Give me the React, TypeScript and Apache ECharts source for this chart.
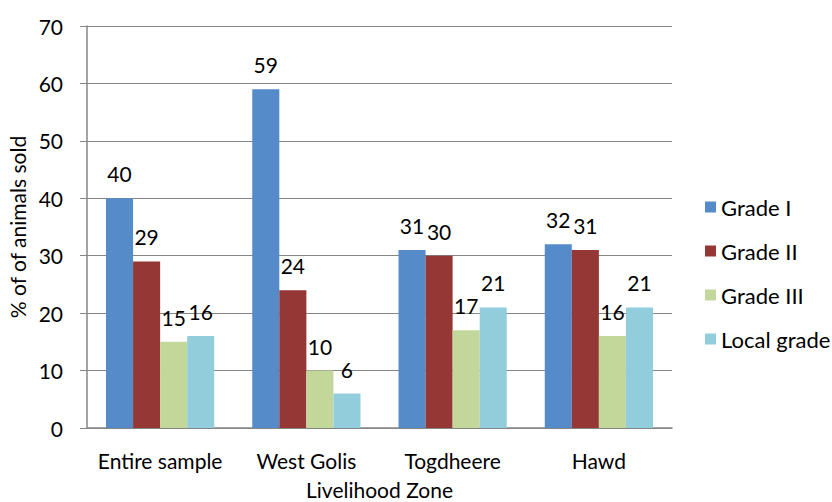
import React, { useEffect, useRef } from "react";
import * as echarts from "echarts";

const zones = ["Entire sample", "West Golis", "Togdheere", "Hawd"];
const gradeI = [40, 59, 31, 32];
const gradeII = [29, 24, 30, 31];
const gradeIII = [15, 10, 17, 16];
const localGrade = [16, 6, 21, 21];
const yTicks = [0, 10, 20, 30, 40, 50, 60, 70];

const FONT = "Lato, 'Open Sans', sans-serif";
const FS = 21;

export default function App() {
  const ref = useRef<HTMLDivElement>(null);

  useEffect(() => {
    if (!ref.current) return;
    const chart = echarts.init(ref.current, null, { renderer: "svg" });
    const mk = (name: string, data: number[], color: string) => ({
      name,
      type: "bar",
      data,
      barGap: "0%",
      barCategoryGap: "26%",
      itemStyle: { color },
      label: {
        show: true,
        position: "top",
        distance: 14,
        color: "#000",
        fontSize: FS,
        fontFamily: FONT,
      },
    });
    chart.setOption({
      animation: false,
      textStyle: { fontFamily: FONT },
      grid: {
        left: 87,
        right: 160,
        top: 26,
        bottom: 74,
        containLabel: false,
        outerBoundsMode: "none",
      },
      legend: {
        orient: "vertical",
        left: 700,
        top: 191,
        itemWidth: 11,
        itemHeight: 11,
        itemGap: 22,
        icon: "rect",
        textStyle: { fontSize: 22, color: "#000", fontFamily: FONT },
        data: ["Grade I", "Grade II", "Grade III", "Local grade"],
      },
      xAxis: {
        type: "category",
        data: zones,
        name: "Livelihood Zone",
        nameLocation: "middle",
        nameGap: 51,
        nameTextStyle: { fontSize: FS, color: "#000", fontFamily: FONT },
        axisLine: { lineStyle: { color: "#868686", width: 1.5 } },
        axisTick: { show: false },
        axisLabel: {
          fontSize: FS,
          color: "#000",
          margin: 22,
          fontFamily: FONT,
          interval: 0,
          hideOverlap: false,
        },
      },
      yAxis: {
        type: "value",
        min: yTicks[0],
        max: yTicks[yTicks.length - 1],
        interval: 10,
        name: "% of of animals sold",
        nameLocation: "middle",
        nameGap: 59,
        nameTextStyle: { fontSize: FS, color: "#000", fontFamily: FONT },
        axisLine: { show: true, lineStyle: { color: "#868686", width: 1.5 } },
        axisTick: { show: true, length: 7, lineStyle: { color: "#868686" } },
        axisLabel: { fontSize: FS, color: "#000", margin: 24, fontFamily: FONT },
        splitLine: { lineStyle: { color: "#868686", width: 1 } },
      },
      series: [
        mk("Grade I", gradeI, "#558BC9"),
        mk("Grade II", gradeII, "#953735"),
        mk("Grade III", gradeIII, "#C4D79B"),
        mk("Local grade", localGrade, "#92CDDC"),
      ],
    });
    return () => chart.dispose();
  }, []);

  return <div ref={ref} style={{ width: 832, height: 502, position: "absolute", left: 0, top: 0 }} />;
}
